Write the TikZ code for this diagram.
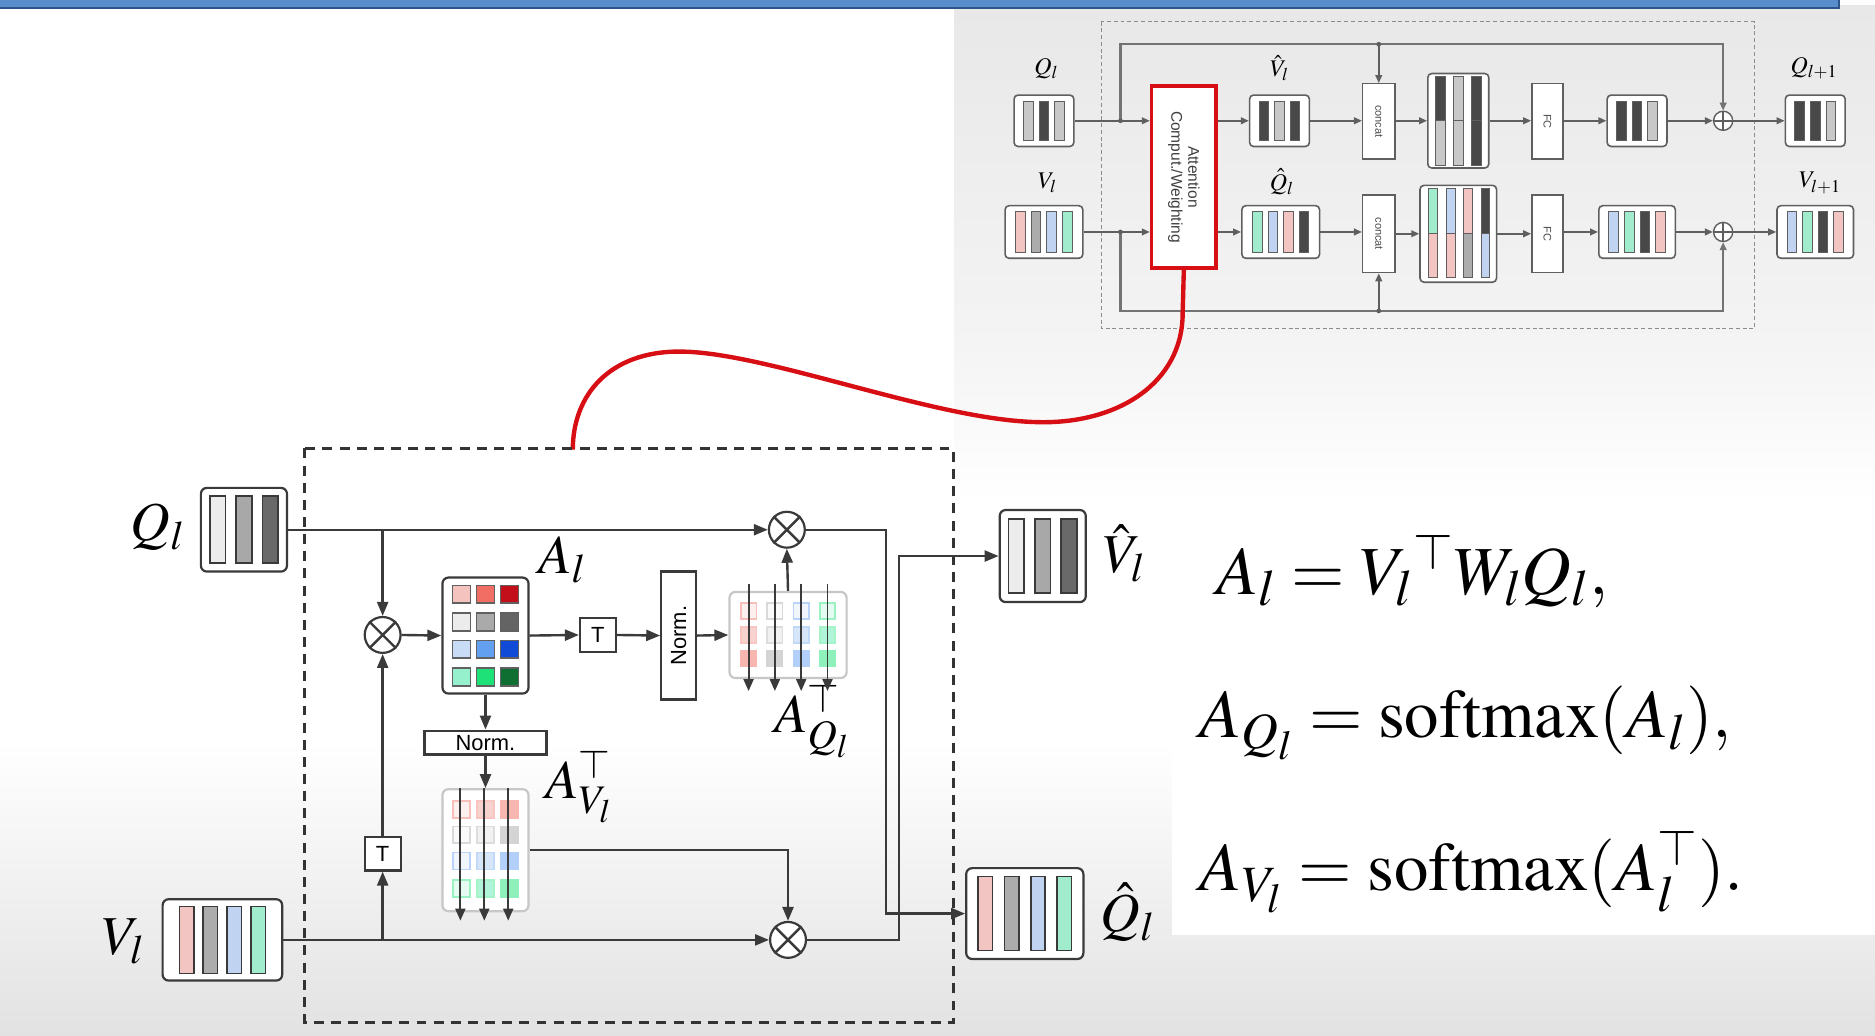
\documentclass[tikz,border=0pt]{standalone}
\usepackage{mathptmx}
\usepackage[no-math]{fontspec}
\newfontfamily\lsans{Liberation Sans}
\usetikzlibrary{arrows.meta,calc}

\definecolor{lnc}{RGB}{58,58,58}
\definecolor{ilnc}{RGB}{95,95,95}
\definecolor{bgbot}{RGB}{226,226,226}
\definecolor{insbg}{RGB}{232,232,232}
\definecolor{insbgb}{RGB}{244,244,244}
\definecolor{barblue}{RGB}{88,142,204}
\definecolor{barblueD}{RGB}{45,85,140}
\definecolor{redbox}{RGB}{215,15,20}
\definecolor{cLt}{RGB}{236,236,236}
\definecolor{cMd}{RGB}{168,168,168}
\definecolor{cDk}{RGB}{105,105,105}
\definecolor{cPk}{RGB}{242,196,194}
\definecolor{cGy}{RGB}{172,172,172}
\definecolor{cBl}{RGB}{192,212,242}
\definecolor{cGn}{RGB}{160,236,204}
\definecolor{iDk}{RGB}{72,72,72}
\definecolor{iLt}{RGB}{200,200,200}
\definecolor{alA1}{RGB}{245,195,190}
\definecolor{alA2}{RGB}{240,110,100}
\definecolor{alA3}{RGB}{195,15,25}
\definecolor{alB1}{RGB}{236,236,236}
\definecolor{alB2}{RGB}{170,170,170}
\definecolor{alB3}{RGB}{100,100,100}
\definecolor{alC1}{RGB}{200,220,245}
\definecolor{alC2}{RGB}{100,160,240}
\definecolor{alC3}{RGB}{15,75,215}
\definecolor{alD1}{RGB}{150,240,205}
\definecolor{alD2}{RGB}{30,225,120}
\definecolor{alD3}{RGB}{15,110,50}

\newcommand{\ux}{0.6pt}
% name, x, y, w, h, spacing, bar w, bar h, colours
\newcommand{\barbox}[9]{%
  \node[vbox, minimum width=#4*\ux, minimum height=#5*\ux] (#1) at (#2,#3) {};
  \foreach \cc [count=\ii] in {#9} {\xdef\nbar{\ii}}
  \foreach \cc [count=\ii] in {#9} {
    \pgfmathsetmacro\bx{#2+(\ii-(\nbar+1)/2)*#6}
    \draw[bar, fill=\cc] (\bx-#7/2,#3-#8/2) rectangle (\bx+#7/2,#3+#8/2);
  }%
}
\newcommand{\otm}[3]{%
  \node[otmc] (#1) at (#2,#3) {};
  \draw[wire] (#1.45) -- (#1.225) (#1.135) -- (#1.315);}
\newcommand{\oplusnode}[3]{%
  \node[opc] (#1) at (#2,#3) {};
  \draw[iwire] (#1.north) -- (#1.south) (#1.east) -- (#1.west);}

\tikzset{
  wire/.style={draw=lnc, line width=1.2pt},
  arr/.style={wire, -{Triangle[length=7pt,width=5.5pt]}},
  carr/.style={draw=lnc, line width=1pt, -{Triangle[length=6pt,width=5pt]}},
  vbox/.style={draw=lnc, line width=1.1pt, rounded corners=3pt, fill=white, inner sep=0pt},
  bar/.style={draw=lnc, line width=0.8pt},
  otmc/.style={circle, draw=lnc, line width=1.1pt, minimum size=18pt, inner sep=0pt, fill=white},
  sqbox/.style={draw=lnc, line width=1.1pt, fill=white, inner sep=0pt},
  fbox/.style={draw=black!22, line width=1.1pt, rounded corners=3pt, fill=white, inner sep=0pt},
  sfont/.style={font=\lsans\fontsize{11}{12}\selectfont},
  lbl/.style={font=\fontsize{27.5}{30}\selectfont, inner sep=0pt},
  eq/.style={font=\fontsize{34.5}{40}\selectfont, inner sep=0pt},
  ilbl/.style={font=\fontsize{12}{13}\selectfont, inner sep=0pt},
  iwire/.style={draw=ilnc, line width=0.8pt},
  iarr/.style={iwire, -{Triangle[length=4pt,width=3.4pt]}},
  isq/.style={draw=ilnc, line width=0.7pt, fill=white, inner sep=0pt},
  opc/.style={circle, draw=ilnc, line width=0.7pt, minimum size=9.6pt, inner sep=0pt, fill=white},
  ifont/.style={font=\lsans\fontsize{5.5}{6}\selectfont},
}

\begin{document}
\begin{tikzpicture}[x=0.6pt, y=-0.6pt]
\useasboundingbox (0,0) rectangle (1568,866);
% ---------- background ----------
\fill[white] (0,0) rectangle (1568,866);
\shade[top color=white, bottom color=bgbot] (0,620) rectangle (1568,866);
\shade[top color=insbg, bottom color=insbgb] (798,5) rectangle (1568,290);
\shade[top color=insbgb, bottom color=white] (798,290) rectangle (1568,420);
\fill[white] (980,420) rectangle (1568,782);
\fill[barblue] (0,0) rectangle (1538,7);
\draw[barblueD, line width=1pt] (0,7) -- (1538,7) -- (1538,0);

% ================= inset (top right) =================
\begin{scope}[vbox/.style={draw=ilnc, line width=0.8pt, rounded corners=2pt, fill=white, inner sep=0pt},
              bar/.style={draw=ilnc, line width=0.5pt}]
\draw[draw=black!45, line width=0.6pt, dash pattern=on 2pt off 1.4pt] (921,18) rectangle (1467,275);

\node[ilbl] (lq) at (875,57) {$Q_l$};
\node[ilbl] (lv) at (876,153) {$V_l$};
\node[ilbl] (lvh) at (1070,57) {$\hat V_l$};
\node[ilbl] (lqh) at (1072,152) {$\hat Q_l$};
\node[ilbl] (lq2) at (1517,57) {$Q_{l+1}$};
\node[ilbl] (lv2) at (1522,153) {$V_{l+1}$};

\barbox{iq}{873}{101}{50}{43}{13}{8}{33}{iLt,iDk,iLt}
\barbox{iv}{873}{194}{65}{44}{13}{8}{34}{cPk,cGy,cBl,cGn}
\barbox{ivh}{1070}{101}{50}{43}{13}{8}{33}{iDk,iLt,iDk}
\barbox{iqh}{1071}{194}{65}{44}{13}{8}{34}{cGn,cBl,cPk,iDk}
\barbox{io1}{1369}{101}{50}{43}{13}{8}{33}{iDk,iDk,iLt}
\barbox{io2}{1369}{194}{64}{44}{13}{8}{34}{cBl,cGn,iDk,cPk}
\barbox{iq2}{1518}{101}{50}{43}{13}{8}{33}{iDk,iDk,iLt}
\barbox{iv2}{1518}{194}{64}{44}{13}{8}{34}{cBl,cGn,iDk,cPk}

% attention box
\node[draw=redbox, line width=1.8pt, minimum width=54*\ux, minimum height=152*\ux, fill=white, inner sep=0pt] (att) at (990,148) {};
\node[rotate=-90, align=center, font=\lsans\fontsize{7.8}{8.6}\selectfont, text=black!75] at (att) {Attention\\Comput./Weighting};

% concat boxes
\node[isq, minimum width=27*\ux, minimum height=63*\ux] (ic1) at (1153,101.5) {};
\node[rotate=-90, ifont, text=black!70] at (ic1) {concat};
\node[isq, minimum width=27*\ux, minimum height=65*\ux] (ic2) at (1153,195.5) {};
\node[rotate=-90, ifont, text=black!70] at (ic2) {concat};
% FC boxes
\node[isq, minimum width=26*\ux, minimum height=63*\ux] (if1) at (1294,101.5) {};
\node[rotate=-90, ifont, text=black!70] at (if1) {FC};
\node[isq, minimum width=26*\ux, minimum height=65*\ux] (if2) at (1294,195.5) {};
\node[rotate=-90, ifont, text=black!70] at (if2) {FC};

% big concatenated boxes
\node[vbox, minimum width=51*\ux, minimum height=79*\ux] (ib1) at (1219.5,101) {};
\foreach \k/\ct/\cb in {0/iDk/iLt,1/iLt/iLt,2/iDk/iDk} {
  \pgfmathsetmacro\bx{1204.5+15*\k}
  \draw[bar, fill=\ct] (\bx-4,64) rectangle (\bx+4,101);
  \draw[bar, fill=\cb] (\bx-4,101) rectangle (\bx+4,138);
}
\node[vbox, minimum width=64*\ux, minimum height=81*\ux] (ib2) at (1219.5,195.5) {};
\foreach \k/\ct/\cb in {0/cGn/cPk,1/cBl/cPk,2/cPk/cGy,3/iDk/cBl} {
  \pgfmathsetmacro\bx{1198.6+14.6*\k}
  \draw[bar, fill=\ct] (\bx-3.6,158) rectangle (\bx+3.6,195);
  \draw[bar, fill=\cb] (\bx-3.6,195) rectangle (\bx+3.6,232);
}

\oplusnode{ip1}{1441}{101}
\oplusnode{ip2}{1441}{194}

% feedback lines
\coordinate (jt) at (937,101);
\coordinate (jb) at (937,194);
\coordinate (tl) at (937,37);
\coordinate (tr) at (1441,37);
\coordinate (bl) at (937,260);
\coordinate (br) at (1441,260);
\coordinate (ct) at (1153,37);
\coordinate (cb) at (1153,260);
\draw[iarr, line width=1.2pt, draw=black!55] (jt) -- (tl) -- (tr) -- (ip1.north);
\draw[iarr, line width=1.2pt, draw=black!55] (jb) -- (bl) -- (br) -- (ip2.south);
\draw[iarr] (ct) -- (ic1.north);
\draw[iarr] (cb) -- (ic2.south);
\foreach \p in {jt,jb,ct,cb} \fill[ilnc] (\p) circle (1.2pt);

% row arrows
\draw[iarr] (iq.east) -- (iq.east -| att.west);
\draw[iarr] (iv.east) -- (iv.east -| att.west);
\draw[iarr] (att.east |- ivh.west) -- (ivh.west);
\draw[iarr] (att.east |- iqh.west) -- (iqh.west);
\draw[iarr] (ivh.east) -- (ivh.east -| ic1.west);
\draw[iarr] (iqh.east) -- (iqh.east -| ic2.west);
\draw[iarr] (ic1.east |- ib1.west) -- (ib1.west);
\draw[iarr] (ic2.east |- ib2.west) -- (ib2.west);
\draw[iarr] (ib1.east) -- (ib1.east -| if1.west);
\draw[iarr] (ib2.east) -- (ib2.east -| if2.west);
\draw[iarr] (if1.east |- io1.west) -- (io1.west);
\draw[iarr] (if2.east |- io2.west) -- (io2.west);
\draw[iarr] (io1.east) -- (ip1.west);
\draw[iarr] (io2.east) -- (ip2.west);
\draw[iarr] (ip1.east) -- (iq2.west);
\draw[iarr] (ip2.east) -- (iv2.west);
\end{scope}

% ================= red link =================
\coordinate (dtop) at (479,376);
\draw[redbox, line width=2.2pt] (att.south) -- (989,262)
  .. controls (989,320) and (935,355) .. (867,353)
  .. controls (780,351) and (640,294) .. (568,294)
  .. controls (510,294) and (479,330) .. (dtop);

% ================= main diagram =================
\draw[draw=black!80, line width=1.5pt, dash pattern=on 5pt off 3.6pt] (255,375) rectangle (797,855);

\node[lbl] (lQ) at (132,441) {$Q_l$};
\node[lbl] (lA) at (470,468) {$A_l$};
\node[lbl] (lV) at (103,787) {$V_l$};
\node[lbl] (lVh) at (940,463) {$\hat V_l$};
\node[lbl] (lQh) at (943,763) {$\hat Q_l$};
\node[lbl] (lAQ) at (679,603) {$A_{Q_l}^{\top}$};
\node[lbl] (lAV) at (484,658) {$A_{V_l}^{\top}$};

\barbox{qb}{204}{443}{72}{70}{22}{13}{56}{cLt,cMd,cDk}
\barbox{vb}{186}{786}{100}{68}{20}{12}{56}{cPk,cGy,cBl,cGn}
\barbox{vh}{872}{465}{72}{77}{22}{13}{62}{cLt,cMd,cDk}
\barbox{qh}{857}{764}{98}{76}{22}{12}{62}{cPk,cGy,cBl,cGn}

\otm{o1}{320}{531}
\otm{o2}{658}{443}
\otm{o3}{659}{786}

% A_l
\node[vbox, minimum width=72*\ux, minimum height=97*\ux] (al) at (406,531.5) {};
\foreach \r/\y in {A/497,B/520,C/543,D/566}
  \foreach \c/\x in {1/386,2/406,3/426}
    \draw[draw=lnc!80, line width=0.8pt, fill=al\r\c] (\x-7.5,\y-7.5) rectangle (\x+7.5,\y+7.5);

\node[sqbox, sfont, minimum width=30*\ux, minimum height=28*\ux] (t1) at (500,531) {T};
\node[sqbox, minimum width=29*\ux, minimum height=107*\ux] (n1) at (567.5,531.5) {};
\node[rotate=90, sfont] at (n1) {Norm.};
\node[sqbox, sfont, minimum width=102*\ux, minimum height=20*\ux] (n2) at (406,621) {Norm.};
\node[sqbox, sfont, minimum width=30*\ux, minimum height=28*\ux] (t2) at (320,714) {T};

% A_Q^T
\node[fbox, minimum width=98*\ux, minimum height=72*\ux] (aq) at (659,531) {};
\foreach \r/\x in {A/626,B/648,C/670,D/692} {
  \draw[draw=al\r2!45!white, line width=0.8pt, fill=al\r1!25!white] (\x-6.5,511-6.5) rectangle (\x+6.5,511+6.5);
  \draw[draw=al\r2!40!white, line width=0.8pt, fill=al\r1!75!white] (\x-6.5,531-6.5) rectangle (\x+6.5,531+6.5);
  \draw[draw=al\r2!50!white, line width=0.8pt, fill=al\r2!50!white] (\x-6.5,551-6.5) rectangle (\x+6.5,551+6.5);
}
\foreach \d in {-33,-11,11,33}
  \draw[carr] ($(aq.north)+(\d,-6)$) -- ($(aq.south)+(\d,10)$);

% A_V^T
\node[fbox, minimum width=72*\ux, minimum height=102*\ux] (av) at (406,711) {};
\foreach \r/\y in {A/677,B/698,C/720,D/743} {
  \draw[draw=al\r2!45!white, line width=0.8pt, fill=al\r1!25!white] (386-7,\y-7) rectangle (386+7,\y+7);
  \draw[draw=al\r2!40!white, line width=0.8pt, fill=al\r1!75!white] (406-7,\y-7) rectangle (406+7,\y+7);
  \draw[draw=al\r2!50!white, line width=0.8pt, fill=al\r2!50!white] (426-7,\y-7) rectangle (426+7,\y+7);
}
\foreach \d in {-21,-1,19}
  \draw[carr] ($(av.north)+(\d,0)$) -- ($(av.south)+(\d,7)$);

% connectors
\coordinate (j1) at (o1 |- qb.east);
\coordinate (j2) at (o1 |- vb.east);
\coordinate (r2) at (741,764);
\coordinate (r4) at (752,465);
\draw[arr] (qb.east) -- (o2.west);
\draw[arr] (j1) -- (o1.north);
\draw[arr] (o1.east) -- (al.west);
\draw[arr] (al.east) -- (t1.west);
\draw[arr] (t1.east) -- (n1.west);
\draw[arr] (n1.east) -- (aq.west);
\draw[arr] (aq.north) -- (o2.south);
\draw[arr] (o2.east) -| (r2) -- (qh.west);
\draw[arr] (al.south) -- (n2.north);
\draw[arr] (n2.south) -- (av.north);
\draw[arr] (av.east) -- (o3 |- av.east) -- (o3.north);
\draw[arr] (vb.east) -- (o3.west);
\draw[arr] (j2) -- (t2.south);
\draw[arr] (t2.north) -- (o1.south);
\draw[arr] (o3.east) -| (r4) -- (vh.west);

% ================= equations =================
\node[eq, anchor=base west] (e1) at (1017,497) {$A_l = {V_l}^{\top} W_l Q_l,$};
\node[eq, anchor=base west] (e2) at (1003,617) {$A_{Q_l} = \mathrm{softmax}(A_l),$};
\node[eq, anchor=base west] (e3) at (1003,745) {$A_{V_l} = \mathrm{softmax}(A_l^{\top}).$};
\end{tikzpicture}
\end{document}
